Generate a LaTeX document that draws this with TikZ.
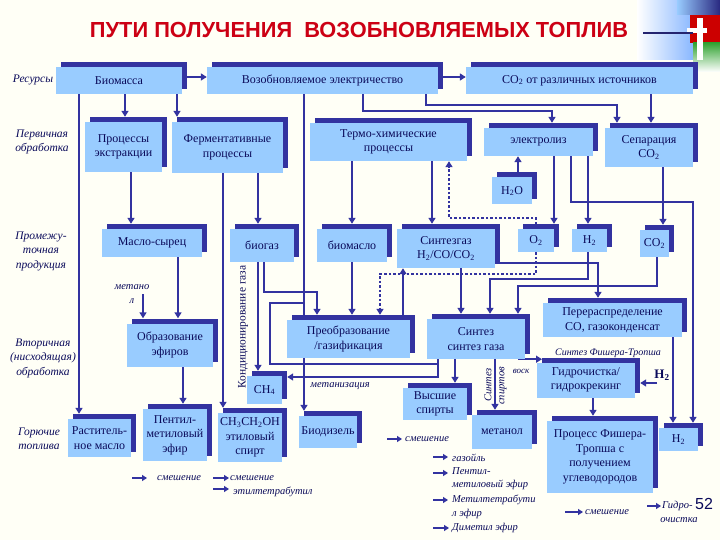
\documentclass[tikz,border=0pt]{standalone}
\usepackage{fontspec}
\setmainfont{Liberation Serif}
\newfontfamily\sansf{Liberation Sans}
\usetikzlibrary{shadows,backgrounds,arrows.meta}
\definecolor{lb}{RGB}{153,204,255}
\definecolor{db}{RGB}{51,51,160}
\definecolor{tx}{RGB}{10,10,90}
\definecolor{ttl}{RGB}{204,0,20}
\definecolor{bgc}{RGB}{255,255,246}
\newcommand\sbs[1]{\textsubscript{#1}}
\begin{document}
\begin{tikzpicture}[x=1pt,y=-1pt,
 bx/.style={fill=lb, text=tx, align=center, inner sep=0pt, font=\fontsize{12}{14.5}\selectfont, general shadow={fill=db, shadow xshift=5pt, shadow yshift=5pt}},
 ln/.style={draw=db, line width=2.5pt},
 arr/.style={ln, -{Triangle[length=6pt,width=7pt]}},
 arrs/.style={arr, shorten >=5pt},
 dotl/.style={dash pattern=on 2.5pt off 2pt},
 lab/.style={text=tx, font=\fontsize{11.5}{14.5}\selectfont\itshape, align=center, inner sep=0pt},
 slab/.style={text=tx, font=\fontsize{10.5}{13.5}\selectfont\itshape, align=left, inner sep=0pt},
 sarr/.style={draw=db, line width=2pt, -{Triangle[length=5pt,width=6pt]}},
]
\path[use as bounding box] (0,0) rectangle (720,540);

% decoration top right
\shade[left color=white, right color=lb!90!blue] (637,0) rectangle (693,60);
\shade[left color=lb, right color=db!80!black] (677,0) rectangle (720,15);
\fill[red!80!black] (690,15) rectangle (720,43);
\shade[top color=green!55!black!80, bottom color=white] (693,43) rectangle (720,72);
\fill[white] (697,18) rectangle (703,60);
\fill[white] (687,28) rectangle (707,33);
\draw[db!70!black, line width=1.2pt] (643,33) -- (693,33);

% title
\node[font=\sansf\bfseries\fontsize{21.8}{24}\selectfont, text=ttl, inner sep=0pt] (title) at (359,30) {ПУТИ ПОЛУЧЕНИЯ\ \ ВОЗОБНОВЛЯЕМЫХ ТОПЛИВ};

% row labels
\node[lab] (rRes) at (33,80) {Ресурсы};
\node[lab] (rPer) at (42,142) {Первичная\\обработка};
\node[lab] (rPro) at (41,251) {Промежу-\\точная\\продукция};
\node[lab] (rVto) at (43,358) {Вторичная\\(нисходящая)\\обработка};
\node[lab] (rGor) at (39,439) {Горючие\\топлива};

% boxes
\node[bx, minimum width=126, minimum height=27] (bio) at (119,80.5) {Биомасса};
\node[bx, minimum width=231, minimum height=27] (elec) at (322.5,80.5) {Возобновляемое электричество};
\node[bx, minimum width=227, minimum height=27] (co2src) at (579.5,80.5) {CO\sbs{2} от различных источников};
\node[bx, minimum width=77, minimum height=50] (extr) at (123.5,147) {Процессы\\экстракции};
\node[bx, minimum width=111, minimum height=51] (ferm) at (227.5,147.5) {Ферментативные\\процессы};
\node[bx, minimum width=157, minimum height=38] (thermo) at (388.5,142) {Термо-химические\\процессы};
\node[bx, minimum width=109, minimum height=28] (elz) at (538.5,142) {электролиз};
\node[bx, minimum width=88, minimum height=39] (sep) at (649,147.5) {Сепарация\\CO\sbs{2}};
\node[bx, minimum width=40, minimum height=27] (h2o) at (512,191) {H\sbs{2}O};
\node[bx, minimum width=100, minimum height=28] (oil) at (152,243) {Масло-сырец};
\node[bx, minimum width=64, minimum height=33] (biogas) at (262,245.5) {биогаз};
\node[bx, minimum width=70, minimum height=33] (biooil) at (352,245.5) {биомасло};
\node[bx, minimum width=98, minimum height=39] (syngas) at (446,248.5) {Синтезгаз\\H\sbs{2}/CO/CO\sbs{2}};
\node[bx, minimum width=36, minimum height=23] (o2) at (536,240.5) {O\sbs{2}};
\node[bx, minimum width=35, minimum height=23] (h2) at (589.5,240.5) {H\sbs{2}};
\node[bx, minimum width=29, minimum height=27] (co2) at (654.5,243.5) {CO\sbs{2}};
\node[bx, minimum width=86, minimum height=43] (ester) at (170,345) {Образование\\эфиров};
\node[bx, minimum width=123, minimum height=38] (gasif) at (348.5,339) {Преобразование\\/газификация};
\node[bx, minimum width=98, minimum height=40] (synth) at (476,339) {Синтез\\синтез газа};
\node[bx, minimum width=139, minimum height=34] (redist) at (612.5,320) {Перераспределение\\CO, газоконденсат};
\node[bx, minimum width=35, minimum height=28] (ch4) at (264.5,390) {CH\sbs{4}};
\node[bx, minimum width=64, minimum height=32] (hialc) at (435,404) {Высшие\\спирты};
\node[bx, minimum width=60, minimum height=34] (meth) at (502,432) {метанол};
\node[bx, minimum width=98, minimum height=35] (hydro) at (586,380) {Гидрочистка/\\гидрокрекинг};
\node[bx, minimum width=106, minimum height=72] (ft) at (600,457) {Процесс Фишера-\\Тропша с\\получением\\углеводородов};
\node[bx, minimum width=39, minimum height=23] (h2b) at (678.5,439.5) {H\sbs{2}};
\node[bx, minimum width=63, minimum height=38] (vegoil) at (99.5,438) {Раститель-\\ное масло};
\node[bx, minimum width=64, minimum height=52] (pme) at (175,435) {Пентил-\\метиловый\\эфир};
\node[bx, minimum width=64, minimum height=49] (eth) at (250,437.5) {CH\sbs{3}CH\sbs{2}OH\\этиловый\\спирт};
\node[bx, minimum width=58, minimum height=32] (biodsl) at (328,432) {Биодизель};

% small labels
\node[lab, font=\fontsize{10.5}{14}\selectfont\itshape] (mlab) at (132,294) {метано\\л};
\node[text=tx, rotate=90, font=\fontsize{11.5}{13}\selectfont, inner sep=0pt] (cond) at (243,327) {Кондиционирование газа};
\node[lab, font=\fontsize{10.5}{13}\selectfont\itshape] (metz) at (340,386) {метанизация};
\node[lab, font=\fontsize{10}{13}\selectfont\itshape] (sft) at (608,353) {Синтез Фишера-Тропша};
\node[lab, rotate=90, font=\fontsize{10.5}{13}\selectfont\itshape] (ssp1) at (488,385) {Синтез};
\node[lab, rotate=90, font=\fontsize{10.5}{13}\selectfont\itshape] (ssp2) at (503,386) {спиртов};
\node[lab, font=\fontsize{9}{11}\selectfont\itshape] (wax) at (521,371) {воск};
\node[text=tx, font=\bfseries\fontsize{13}{14}\selectfont, inner sep=0pt] (h2lab) at (662,375) {H\sbs{2}};

% bottom outputs
\node[slab, anchor=west] (mixA) at (157,478) {смешение};
\node[slab, anchor=west] (mixB) at (230,478) {смешение};
\node[slab, anchor=west] (ettb) at (233,492) {этилтетрабутил};
\node[slab, anchor=west] (mixC) at (405,439) {смешение};
\node[slab, anchor=west] (gasl) at (452,458) {газойль};
\node[slab, anchor=north west] (pmel) at (452,467) {Пентил-\\метиловый эфир};
\node[slab, anchor=north west] (mtbl) at (452,495) {Метилтетрабути\\л эфир};
\node[slab, anchor=west] (dmel) at (452,528) {Диметил эфир};
\node[slab, anchor=west] (mixD) at (585,512) {смешение};
\node[slab, anchor=west] (hyd1) at (662,506) {Гидро-};
\node[slab] (hyd2) at (679,520) {очистка};
\node[text=tx, font=\sansf\fontsize{16}{18}\selectfont, inner sep=0pt] (pnum) at (704,504) {52};

\coordinate (jE) at (304,303);
\coordinate (jS) at (438,364);

\begin{scope}[on background layer]
\fill[bgc] (0,0) rectangle (720,540);
% resources
\draw[arr] (bio.east |- 0,77) -- (elec.west |- 0,77);
\draw[arr] (elec.east |- 0,77) -- (co2src.west |- 0,77);
\draw[arrs] (125,0 |- bio.south) -- (125,0 |- extr.north);
\draw[arrs] (177,0 |- bio.south) -- (177,0 |- ferm.north);
\draw[arrs] (79,0 |- bio.south) -- (79,0 |- vegoil.north);
\draw[arrs] (363,0 |- elec.south) |- (552,111) -- (552,0 |- elz.north);
\draw[arrs] (426,0 |- elec.south) |- (617,105) -- (617,0 |- sep.north);
\draw[arrs] (651,0 |- co2src.south) -- (651,0 |- sep.north);
\draw[arrs] (304,0 |- elec.south) -- (304,0 |- biodsl.north);
\draw[ln] (jE) -| (270,364) -- (jS);
\draw[arrs] (438,0 |- synth.south) |- (ch4.east |- 0,377);
% primary
\draw[arrs] (131,0 |- extr.south) -- (131,0 |- oil.north);
\draw[arrs] (258,0 |- ferm.south) -- (258,0 |- biogas.north);
\draw[arrs] (223,0 |- ferm.south) -- (223,0 |- eth.north);
\draw[arrs] (352,0 |- thermo.south) -- (352,0 |- biooil.north);
\draw[arrs] (432,0 |- thermo.south) -- (432,0 |- syngas.north);
\draw[arr] (518,0 |- h2o.north) -- (518,0 |- elz.south);
\draw[arrs] (554,0 |- elz.south) -- (554,0 |- o2.north);
\draw[arrs] (588,0 |- elz.south) -- (588,0 |- h2.north);
\draw[arrs] (571,0 |- elz.south) |- (693,202) -- (693,0 |- h2b.north);
\draw[arrs] (663,0 |- sep.south) -- (663,0 |- co2.north);
% intermediate
\draw[arrs] (178,0 |- oil.south) -- (178,0 |- ester.north);
\draw[arrs] (143,0 |- mlab.center) -- (143,0 |- ester.north);
\draw[arrs] (258,0 |- biogas.south) -- (258,0 |- ch4.north);
\draw[arrs] (264,0 |- biogas.south) |- (317,292) -- (317,0 |- gasif.north);
\draw[arrs] (352,0 |- biooil.south) -- (352,0 |- gasif.north);
\draw[arr] (403,0 |- gasif.north) -- (403,0 |- syngas.south);
\draw[arrs, dotl] (536,0 |- o2.south) |- (380,274) -- (380,0 |- gasif.north);
\draw[arr, dotl] (536,0 |- o2.north) |- (449,218) -- (449,0 |- thermo.south);
\draw[arrs] (461,0 |- syngas.south) -- (461,0 |- synth.north);
\draw[arrs] (588,0 |- h2.south) |- (490,279) -- (490,0 |- synth.north);
\draw[arrs] (657,0 |- co2.south) |- (518,286) -- (518,0 |- synth.north);
\draw[arrs] (syngas.east |- 0,263) -| (598,0 |- redist.north);
% secondary
\draw[arrs] (183,0 |- ester.south) -- (183,0 |- pme.north);
\draw[arrs] (455,0 |- synth.south) -- (455,0 |- hialc.north);
\draw[arrs] (495,0 |- synth.south) -- (495,0 |- meth.north);
\draw[arr] (518,0 |- synth.south) -- (542,0 |- synth.south);
\draw[arrs] (673,0 |- redist.south) -- (673,0 |- h2b.north);
\draw[arrs] (657,383) -- (hydro.east |- 0,383);
\draw[arrs] (593,0 |- hydro.south) -- (593,0 |- ft.north);
\end{scope}

% small output arrows
\draw[sarr] (132,478) -- ([xshift=-10pt]mixA.west);
\draw[sarr] (213,478) -- ([xshift=-1pt]mixB.west);
\draw[sarr] (213,489) -- (229,489);
\draw[sarr] (387,439) -- ([xshift=-3pt]mixC.west);
\draw[sarr] (433,457) -- (448,457);
\draw[sarr] (433,473) -- (448,473);
\draw[sarr] (433,500) -- (448,500);
\draw[sarr] (433,528) -- ([xshift=-3pt]dmel.west);
\draw[sarr] (565,512) -- ([xshift=-2pt]mixD.west);
\draw[sarr] (647,506) -- ([xshift=-1pt]hyd1.west);
\end{tikzpicture}
\end{document}
